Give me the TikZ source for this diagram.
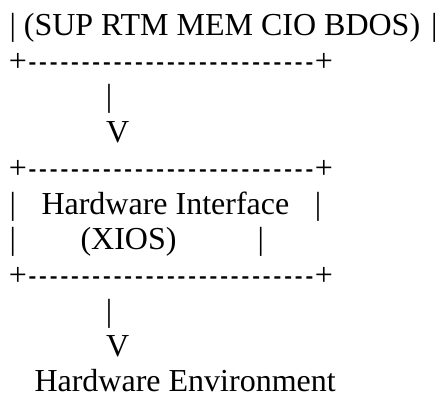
\documentclass[tikz,border=0pt]{standalone}
\usepackage{graphicx}
\usepackage{fontspec}
\setmainfont{Liberation Serif}[Ligatures=TeXOff]
% one hyphen of a box edge: full hyphen advance, slightly shorter stroke
\newcommand\edgedash{\makebox[0.333em][c]{\scalebox{0.72}[1]{-}}}
\newcommand\edgerun{+\edgedash\edgedash\edgedash\edgedash\edgedash\edgedash\edgedash\edgedash\edgedash
  \edgedash\edgedash\edgedash\edgedash\edgedash\edgedash\edgedash\edgedash\edgedash
  \edgedash\edgedash\edgedash\edgedash\edgedash\edgedash\edgedash\edgedash\edgedash+}
\begin{document}
\begin{tikzpicture}[x=1pt,y=-1pt,
  txt/.style={anchor=base west, inner sep=0pt, outer sep=0pt,
    font=\fontsize{32}{36}\selectfont}]
\useasboundingbox (0,0) rectangle (446,395);
% upper block, bottom edge
\node[txt] (kernel) at (9.5,35.5) {| (SUP RTM MEM CIO BDOS)\hspace{3pt} |};
\node[txt] (kernelbot) at (9,71.2) {\edgerun};
% arrow down to the XIOS block
\node[txt] (shaft1) at (105.8,106.9) {|};
\node[txt] (head1) at (106,142.6) {V};
% hardware interface block
\node[txt] (xiostop) at (9,178.3) {\edgerun};
\node[txt] (xiosl1) at (9.5,214) {|};
\node[txt] (xiosname) at (41.5,214) {Hardware Interface};
\node[txt] (xiosr1) at (314.8,214) {|};
\node[txt] (xiosl2) at (9.5,249.7) {|};
\node[txt] (xiosabbr) at (80.5,249.7) {(XIOS)};
\node[txt] (xiosr2) at (257.5,249.7) {|};
\node[txt] (xiosbot) at (9,285.4) {\edgerun};
% arrow down to the hardware
\node[txt] (shaft2) at (105.8,321.1) {|};
\node[txt] (head2) at (106,356.8) {V};
\node[txt, text depth=0pt] (hardware) at (34.5,391) {Hardware Environment};
\end{tikzpicture}
\end{document}
